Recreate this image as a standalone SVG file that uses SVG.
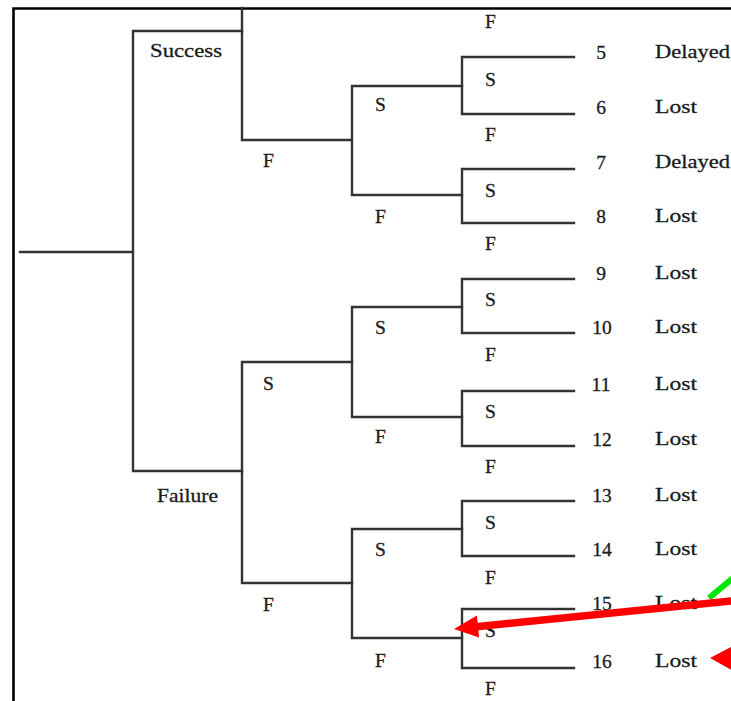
<svg xmlns="http://www.w3.org/2000/svg" width="731" height="701" viewBox="0 0 731 701">
  <style>
    .frame { fill: none; stroke: #000; stroke-width: 2.6; }
    .edge { fill: none; stroke: #333; stroke-width: 2.4; stroke-linecap: square; }
    text { font-family: "Liberation Serif", "Times New Roman", serif; font-size: 19.5px; fill: #1a1a1a; stroke: #1a1a1a; stroke-width: 0.3; }
    .num { text-anchor: middle; }
    .red { stroke: #ff0000; stroke-width: 7.5; fill: none; }
    .redfill { fill: #ff0000; }
    .green { stroke: #00e600; stroke-width: 6; fill: none; }
  </style>

  <rect x="0" y="0" width="731" height="701" fill="#fff"/>
  <path class="frame" d="M13.5 701 V8.5 H731"/>

  <!-- tree branches -->
  <g id="connectors">
    <!-- root and first split -->
    <path class="edge" d="M20 252 H133 M133 31 V471 M133 31 H242 M133 471 H242"/>
    <!-- success branch -->
    <path class="edge" d="M242 8 V140 H352 M352 86 V195 M352 86 H462 M352 195 H462"/>
    <!-- failure branch -->
    <path class="edge" d="M242 362 V583 M242 362 H352 M242 583 H352"/>
    <path class="edge" d="M352 307 V417 M352 307 H462 M352 417 H462"/>
    <path class="edge" d="M352 529 V638 M352 529 H462 M352 638 H462"/>
    <!-- leaf pairs -->
    <path class="edge" d="M462 57 V114 M462 57 H574 M462 114 H574"/>
    <path class="edge" d="M462 169 V223 M462 169 H574 M462 223 H574"/>
    <path class="edge" d="M462 279 V333 M462 279 H574 M462 333 H574"/>
    <path class="edge" d="M462 391 V446 M462 391 H574 M462 446 H574"/>
    <path class="edge" d="M462 501 V556 M462 501 H574 M462 556 H574"/>
    <path class="edge" d="M462 609 V668 M462 609 H574 M462 668 H574"/>
  </g>

  <!-- branch labels -->
  <g id="branch-labels">
    <text x="150" y="57" textLength="72" lengthAdjust="spacingAndGlyphs">Success</text>
    <text x="157" y="502" textLength="61" lengthAdjust="spacingAndGlyphs">Failure</text>
    <text x="263" y="167">F</text>
    <text x="263" y="390">S</text>
    <text x="263" y="611">F</text>
    <text x="375" y="111">S</text>
    <text x="375" y="223">F</text>
    <text x="375" y="334">S</text>
    <text x="375" y="443">F</text>
    <text x="375" y="556">S</text>
    <text x="375" y="667">F</text>
    <text x="485" y="28">F</text>
    <text x="485" y="86">S</text>
    <text x="485" y="141">F</text>
    <text x="485" y="197">S</text>
    <text x="485" y="250">F</text>
    <text x="485" y="306">S</text>
    <text x="485" y="361">F</text>
    <text x="485" y="418">S</text>
    <text x="485" y="473">F</text>
    <text x="485" y="529">S</text>
    <text x="485" y="584">F</text>
    <text x="485" y="637">S</text>
    <text x="485" y="695">F</text>
  </g>

  <!-- outcomes -->
  <g id="outcome-5"><text class="num" x="601" y="59">5</text><text x="655" y="58" textLength="75" lengthAdjust="spacingAndGlyphs">Delayed</text></g>
  <g id="outcome-6"><text class="num" x="601" y="114">6</text><text x="655" y="113" textLength="42" lengthAdjust="spacingAndGlyphs">Lost</text></g>
  <g id="outcome-7"><text class="num" x="601" y="169">7</text><text x="655" y="168" textLength="75" lengthAdjust="spacingAndGlyphs">Delayed</text></g>
  <g id="outcome-8"><text class="num" x="601" y="223">8</text><text x="655" y="222" textLength="42" lengthAdjust="spacingAndGlyphs">Lost</text></g>
  <g id="outcome-9"><text class="num" x="601" y="280">9</text><text x="655" y="279" textLength="42" lengthAdjust="spacingAndGlyphs">Lost</text></g>
  <g id="outcome-10"><text class="num" x="602" y="334">10</text><text x="655" y="333" textLength="42" lengthAdjust="spacingAndGlyphs">Lost</text></g>
  <g id="outcome-11"><text class="num" x="601" y="391">11</text><text x="655" y="390" textLength="42" lengthAdjust="spacingAndGlyphs">Lost</text></g>
  <g id="outcome-12"><text class="num" x="602" y="446">12</text><text x="655" y="445" textLength="42" lengthAdjust="spacingAndGlyphs">Lost</text></g>
  <g id="outcome-13"><text class="num" x="602" y="502">13</text><text x="655" y="501" textLength="42" lengthAdjust="spacingAndGlyphs">Lost</text></g>
  <g id="outcome-14"><text class="num" x="602" y="556">14</text><text x="655" y="555" textLength="42" lengthAdjust="spacingAndGlyphs">Lost</text></g>
  <g id="outcome-15"><text class="num" x="602" y="610">15</text><text x="655" y="609" textLength="42" lengthAdjust="spacingAndGlyphs">Lost</text></g>
  <g id="outcome-16"><text class="num" x="602" y="668">16</text><text x="655" y="667" textLength="42" lengthAdjust="spacingAndGlyphs">Lost</text></g>

  <!-- annotation arrows -->
  <g id="annotations">
    <line class="green" x1="709" y1="598" x2="745" y2="568"/>
    <line class="red" x1="740" y1="600" x2="476" y2="626.7"/>
    <polygon class="redfill" points="454,629 476.9,615.5 479.1,637.5"/>
    <polygon class="redfill" points="710,658 735,645 735,672"/>
  </g>
</svg>
